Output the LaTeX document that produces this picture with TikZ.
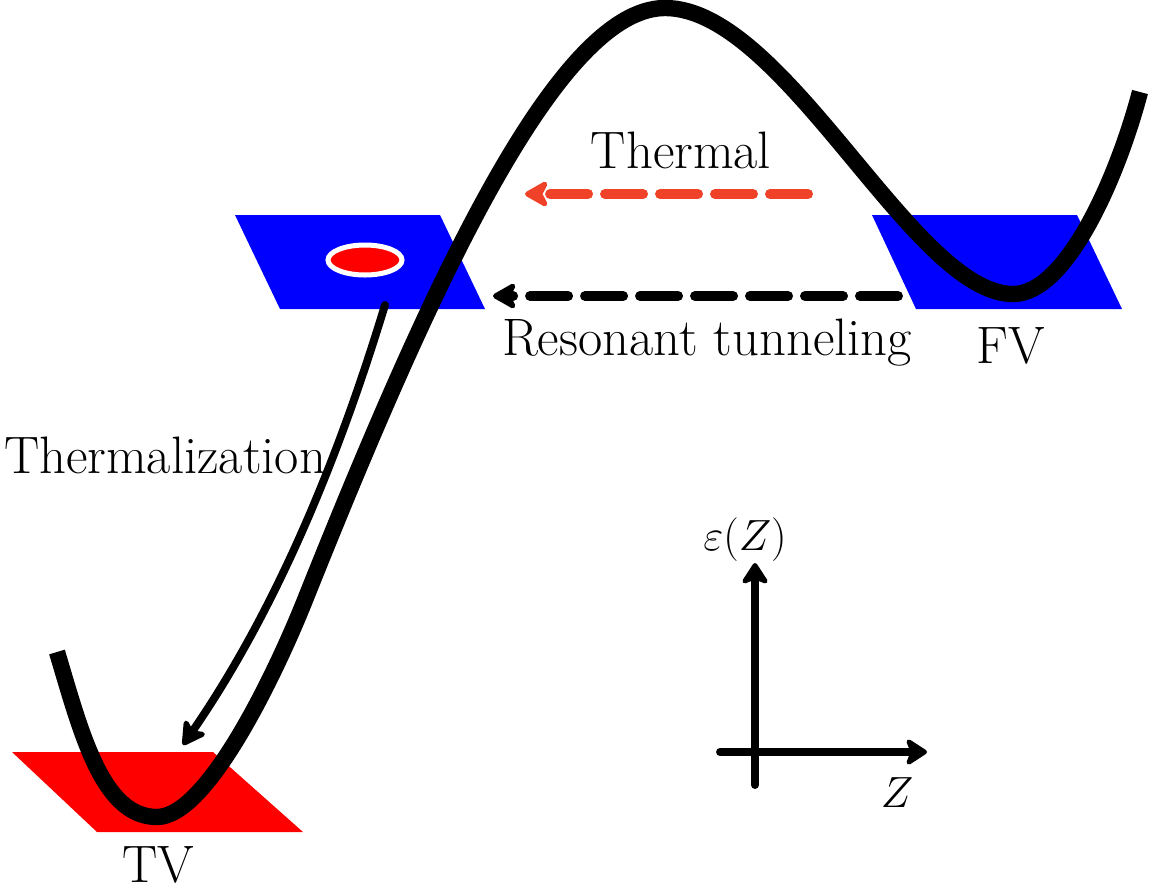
\documentclass[tikz,border=0pt]{standalone}
\usetikzlibrary{arrows.meta}
\definecolor{thermred}{RGB}{240,66,40}
\begin{document}
\begin{tikzpicture}[x=0.02cm,y=-0.02cm,
  every node/.style={font=\fontsize{30}{36}\selectfont, inner sep=0pt},
  lbl/.style={anchor=base},
  pot/.style={line width=9.3pt},
  tipA/.style={-{Stealth[round,length=16pt,width=18pt,inset=4.5pt]}},
  tipB/.style={-{Stealth[round,length=14pt,width=18pt,inset=3.5pt]}},
  dasharrow/.style={line width=5.7pt, line cap=round, dash pattern=on 0.76cm off 0.34cm, tipA},
  thinarrow/.style={line width=4.5pt, line cap=round, tipA},
  axis/.style={line width=4.5pt, line cap=round, tipB},
  fvpatch/.style={fill=blue},
  tvpatch/.style={fill=red}
]
\useasboundingbox (0,0) rectangle (1150,887);

% vacua patches
\fill[fvpatch] (235,215) -- (440,215) -- (485,309) -- (280,309) -- cycle;
\fill[fvpatch] (872,215) -- (1077,215) -- (1122,309) -- (916,309) -- cycle;
\fill[tvpatch] (12,752) -- (213,752) -- (303,832) -- (97,832) -- cycle;

% potential
\draw[pot] (57,652) .. controls (81,732) and (102,817) .. (157,817)
  .. controls (207,817) and (275,675) .. (305,600)
  .. controls (425,300) and (555,8) .. (665,8)
  .. controls (785,8) and (913,294) .. (1013,294)
  .. controls (1068,294) and (1119,172) .. (1140,92);

% bubble
\draw[white, fill=red, line width=2.85pt] (365,260) ellipse [x radius=0.74cm, y radius=0.30cm];

% labels
\node[lbl] (thermal) at (681,168) {Thermal};
\node[lbl] (reson) at (707,355) {Resonant tunneling};
\node[lbl] (fv) at (1011,363) {FV};
\node[lbl] (tv) at (158,882) {TV};
\node[lbl] (thermz) at (165,473) {Thermalization};
\node[lbl] (eps) at (745,550) {$\varepsilon(Z)$};
\node[lbl] (zlab) at (897,807) {$Z$};

% arrows
\coordinate (thA) at (808,194);
\coordinate (thB) at (525,194);
\draw[dasharrow, thermred] (thA) -- (thB);

\coordinate (rtA) at (898,296);
\coordinate (rtB) at (493,296);
\draw[dasharrow, black] (rtA) -- (rtB);

\coordinate (tzA) at (385,305);
\coordinate (tzB) at (183,745);
\draw[thinarrow] (tzA) .. controls (350,420) and (290,590) .. (tzB);

% axes
\coordinate (yA) at (755,785);
\coordinate (yB) at (755,563);
\coordinate (xA) at (720,752);
\coordinate (xB) at (927,752);
\draw[axis] (yA) -- (yB);
\draw[axis] (xA) -- (xB);
\end{tikzpicture}
\end{document}
